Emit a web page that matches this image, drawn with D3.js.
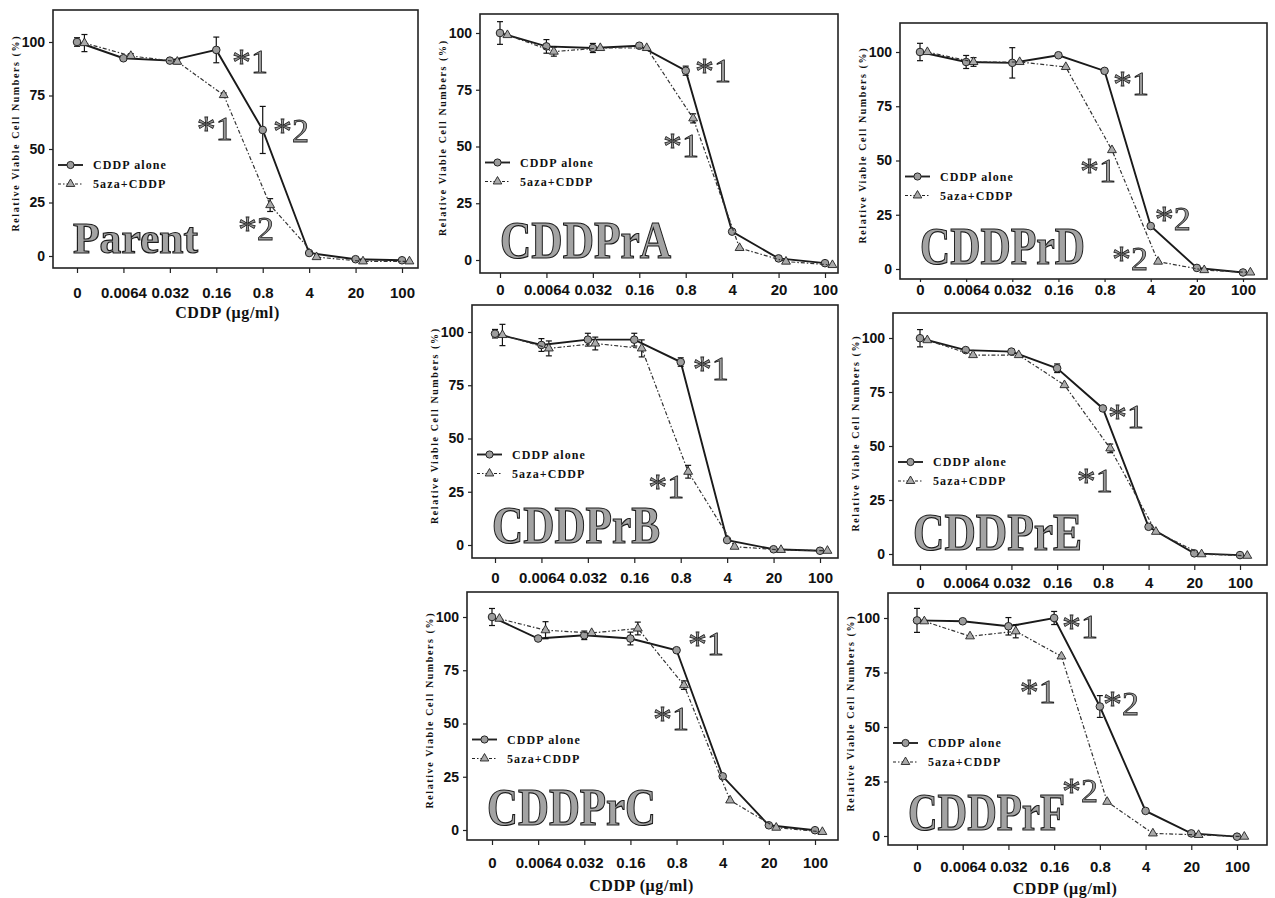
<!DOCTYPE html>
<html>

<head>
    <meta charset="utf-8">
    <style>
        body {
            margin: 0;
            background: #fff;
        }

        svg {
            display: block;
            font-family: "Liberation Serif", "DejaVu Serif", serif;
        }

        .frame {
            fill: none;
            stroke: #222;
            stroke-width: 1.6;
        }

        .axis .domain {
            display: none;
        }

        .axis .tick line {
            stroke: #222;
            stroke-width: 1.2;
        }

        .x.axis .tick text {
            font-size: 15px;
            font-weight: bold;
            fill: #111;
        }

        .y.axis .tick text {
            font-size: 14px;
            font-weight: bold;
            fill: #111;
        }

        .ytitle {
            font-size: 10px;
            font-weight: bold;
            fill: #111;
        }

        .xtitle {
            font-size: 16px;
            font-weight: bold;
            fill: #111;
            letter-spacing: 0.6px;
        }

        .legend text {
            font-size: 12px;
            font-weight: bold;
            fill: #111;
            letter-spacing: 1.1px;
        }

        .name {
            font-weight: bold;
            fill: #a3a3a3;
            stroke: #1c1c1c;
            stroke-width: 1.2;
        }

        .star {
            fill: #999;
            stroke: #1c1c1c;
            stroke-width: 0.8;
        }
    </style>
</head>

<body>
    <svg width="1275" height="898"></svg>

    <script src="https://d3js.org/d3.v7.min.js"></script>

    <script>
        // x categories (CDDP ug/ml), evenly spaced
        const doses = ["0", "0.0064", "0.032", "0.16", "0.8", "4", "20", "100"];
        const yTicks = [0, 25, 50, 75, 100];
        const panels = ["Parent", "CDDPrA", "CDDPrD", "CDDPrB", "CDDPrE", "CDDPrC", "CDDPrF"];
        const seriesNames = ["CDDP alone", "5aza+CDDP"];

        // rows follow panels order
        const aloneValues = [
            [100, 92.4, 91.3, 96.3, 58.9, 1.4, -1.5, -2],
            [100, 94.1, 93.4, 94.4, 83.4, 12.5, 0.7, -1.4],
            [100, 95.4, 95, 98.5, 91.3, 19.8, 0.5, -1.6],
            [99.2, 93.9, 96.4, 96.4, 85.9, 2.3, -2, -2.7],
            [99.9, 94.4, 93.7, 86, 67.4, 12.6, 0.3, -0.5],
            [100, 89.9, 91.4, 89.9, 84.4, 25.2, 2.2, -0.1],
            [98.9, 98.5, 96.2, 100, 59.4, 11.5, 1.2, -0.3]
        ];
        const azaValues = [
            [99.5, 93.5, 90.8, 75.2, 23.8, -0.5, -2.5, -2.5],
            [99.1, 91.8, 93.4, 93.4, 62.4, 5.3, -0.7, -2.2],
            [100, 95.4, 95.4, 93.1, 54.8, 3.4, -0.5, -1.6],
            [98.6, 92.3, 94.6, 92.3, 34.4, -0.8, -2.3, -2.7],
            [99, 92.1, 92.1, 78.2, 48.9, 10.3, -0.1, -0.8],
            [99.2, 93.8, 92.5, 94.6, 68, 13.9, 1.1, -0.9],
            [98.5, 91.6, 93.9, 82.4, 15.7, 1.2, 0.5, -0.3]
        ];
        const aloneErrors = [
            [2, 0, 0, 6, 11, 0, 0, 0],
            [5, 3, 2, 0, 2, 0, 0, 0],
            [4, 3, 7, 0, 0, 0, 0, 0],
            [2, 3, 3, 3, 2, 0, 0, 0],
            [4, 0, 0, 2, 0, 0, 0, 0],
            [4, 0, 2, 3, 0, 0, 0, 0],
            [5.5, 0, 4, 3, 5, 0, 0, 0]
        ];
        const azaErrors = [
            [4, 1, 1, 1, 3, 0, 0, 0],
            [0, 2, 0, 0, 2, 0, 0, 0],
            [0, 2, 0, 0, 0, 0, 0, 0],
            [5, 3.5, 3, 4, 3, 0, 0, 0],
            [0, 0, 0, 0, 2, 0, 0, 0],
            [0, 4, 0, 3, 2, 0, 0, 0],
            [0, 0, 3, 0, 0, 0, 0, 0]
        ];

        // significance marks: [panel, digit, dose position, value]
        const asterisks = [
            [0, "1", 3.34, 85.5], [0, "2", 4.22, 53.3], [0, "1", 2.58, 54.2], [0, "2", 3.47, 7.5],
            [1, "1", 4.2, 78.4], [1, "1", 3.51, 45.4],
            [2, "1", 4.18, 80], [2, "1", 3.47, 40], [2, "2", 5.09, 18], [2, "2", 4.16, -0.5],
            [3, "1", 4.26, 77.4], [3, "1", 3.3, 22],
            [4, "1", 4.11, 58.3], [4, "1", 3.43, 28.7],
            [5, "1", 4.25, 82], [5, "1", 3.49, 46.8],
            [6, "1", 3.17, 90.8], [6, "1", 2.25, 61], [6, "2", 4.07, 55.5], [6, "2", 3.17, 15.6]
        ];

        // panel placement on the page
        const layout = [
            { frame: [53, 10, 418, 268], xr: [77, 402], yr: [256, 42], labelY: 293, titleY: 312, nameW: 125, nameSize: 45 },
            { frame: [480, 14, 838, 273], xr: [500, 825], yr: [260, 33], labelY: 290, nameW: 171, nameSize: 53 },
            { frame: [900, 23, 1267, 279], xr: [920, 1243], yr: [269, 52], labelY: 290, nameW: 165, nameSize: 53 },
            { frame: [472, 305, 838, 558], xr: [495, 820], yr: [545, 332], labelY: 578, nameW: 168, nameSize: 53 },
            { frame: [893, 313, 1267, 565], xr: [920, 1240], yr: [554, 338], labelY: 583, nameW: 169, nameSize: 53 },
            { frame: [467, 592, 838, 840], xr: [492, 815], yr: [830, 617], labelY: 863, titleY: 885, nameW: 169, nameSize: 53 },
            { frame: [888, 593, 1267, 845], xr: [917, 1237], yr: [836, 618], labelY: 867, titleY: 888, nameW: 157, nameSize: 53 }
        ];

        const azaShift = 0.16;

        let svg = d3.select("svg");

        // grey-only rendering for the big outlined letters
        svg.append("defs").append("filter")
            .attr("id", "grey")
            .attr("x", "-10%").attr("y", "-10%")
            .attr("width", "120%").attr("height", "120%")
            .append("feColorMatrix")
            .attr("type", "saturate")
            .attr("values", 0);

        panels.forEach(function (name, p) {
            let L = layout[p];
            let [fx0, fy0, fx1, fy1] = L.frame;

            let x = d3.scaleLinear()
                .domain([0, doses.length - 1])
                .range(L.xr);

            let y = d3.scaleLinear()
                .domain([0, 100])
                .range(L.yr);

            let g = svg.append("g").attr("class", "panel");

            g.append("rect")
                .attr("class", "frame")
                .attr("x", fx0)
                .attr("y", fy0)
                .attr("width", fx1 - fx0)
                .attr("height", fy1 - fy0);

            let tickLen = p === 2 ? 3 : 5;
            g.append("g")
                .attr("class", "x axis")
                .attr("transform", `translate(0,${fy1})`)
                .call(d3.axisBottom(x)
                    .tickValues(d3.range(doses.length))
                    .tickFormat(i => doses[i])
                    .tickSize(tickLen)
                    .tickPadding(L.labelY - fy1 - tickLen - 5.5));

            g.append("g")
                .attr("class", "y axis")
                .attr("transform", `translate(${fx0},0)`)
                .call(d3.axisLeft(y)
                    .tickValues(yTicks)
                    .tickSize(4)
                    .tickPadding(4));

            // axis titles
            let cy = (fy0 + fy1) / 2 - 5;
            g.append("text")
                .attr("class", "ytitle")
                .attr("transform", `translate(${fx0 - 34},${cy}) rotate(-90)`)
                .attr("text-anchor", "middle")
                .attr("textLength", 195)
                .attr("lengthAdjust", "spacing")
                .text("Relative Viable Cell Numbers (%)");

            if (L.titleY) {
                g.append("text")
                    .attr("class", "xtitle")
                    .attr("x", (L.xr[0] + L.xr[1]) / 2 - 12)
                    .attr("y", L.titleY + 5.5)
                    .attr("text-anchor", "middle")
                    .text("CDDP (\u03bcg/ml)");
            }

            // big panel name
            let big = g.append("g").attr("filter", "url(#grey)");
            big.append("text")
                .attr("class", "name")
                .attr("x", fx0 + 20)
                .attr("y", fy1 - 15)
                .attr("font-size", L.nameSize)
                .attr("textLength", L.nameW)
                .attr("lengthAdjust", "spacingAndGlyphs")
                .text(name);

            let series = [
                { key: seriesNames[0], values: aloneValues[p], errors: aloneErrors[p], shift: 0 },
                { key: seriesNames[1], values: azaValues[p], errors: azaErrors[p], shift: azaShift }
            ];

            let line = d3.line();

            series.forEach(function (s, si) {
                let pts = s.values.map((v, i) => ({ i: i + s.shift, v: v, e: s.errors[i] }));

                g.append("path")
                    .attr("fill", "none")
                    .attr("stroke", si === 0 ? "#1a1a1a" : "#333")
                    .attr("stroke-width", si === 0 ? 1.9 : 1.2)
                    .attr("stroke-dasharray", si === 0 ? null : "4,2,1.5,2")
                    .attr("d", line(pts.map(d => [x(d.i), y(d.v)])));

                // error bars
                let eb = g.append("g").selectAll("g")
                    .data(pts.filter(d => d.e > 0))
                    .join("g")
                    .attr("stroke", "#111")
                    .attr("stroke-width", 1.2);
                eb.append("line")
                    .attr("x1", d => x(d.i)).attr("x2", d => x(d.i))
                    .attr("y1", d => y(d.v - d.e)).attr("y2", d => y(d.v + d.e));
                eb.append("line")
                    .attr("x1", d => x(d.i) - 3).attr("x2", d => x(d.i) + 3)
                    .attr("y1", d => y(d.v + d.e)).attr("y2", d => y(d.v + d.e));
                eb.append("line")
                    .attr("x1", d => x(d.i) - 3).attr("x2", d => x(d.i) + 3)
                    .attr("y1", d => y(d.v - d.e)).attr("y2", d => y(d.v - d.e));

                if (si === 0) {
                    g.append("g").selectAll("circle")
                        .data(pts)
                        .join("circle")
                        .attr("cx", d => x(d.i))
                        .attr("cy", d => y(d.v))
                        .attr("r", 3.8)
                        .attr("fill", "#9c9c9c")
                        .attr("stroke", "#222")
                        .attr("stroke-width", 1);
                } else {
                    g.append("g").selectAll("path")
                        .data(pts)
                        .join("path")
                        .attr("transform", d => `translate(${x(d.i)},${y(d.v)})`)
                        .attr("d", d3.symbol(d3.symbolTriangle, 34))
                        .attr("fill", "#aaa")
                        .attr("stroke", "#222")
                        .attr("stroke-width", 0.9);
                }
            });

            // legend
            let lx = fx0 + 5;
            let ly = y(50) + 16;
            let leg = g.append("g").attr("class", "legend");
            series.forEach(function (s, si) {
                let yy = ly + si * 19;
                leg.append("line")
                    .attr("x1", lx).attr("x2", lx + 25)
                    .attr("y1", yy).attr("y2", yy)
                    .attr("stroke", "#222")
                    .attr("stroke-width", si === 0 ? 1.9 : 1.2)
                    .attr("stroke-dasharray", si === 0 ? null : "3,2,1.5,2");
                if (si === 0) {
                    leg.append("circle")
                        .attr("cx", lx + 12.5).attr("cy", yy).attr("r", 3.6)
                        .attr("fill", "#9c9c9c").attr("stroke", "#222");
                } else {
                    leg.append("path")
                        .attr("transform", `translate(${lx + 12.5},${yy})`)
                        .attr("d", d3.symbol(d3.symbolTriangle, 32))
                        .attr("fill", "#aaa").attr("stroke", "#222").attr("stroke-width", 0.9);
                }
                leg.append("text")
                    .attr("x", lx + 35)
                    .attr("y", yy + 4)
                    .text(s.key);
            });

            // asterisk labels
            let stars = g.append("g").attr("filter", "url(#grey)");
            asterisks.filter(a => a[0] === p).forEach(function (a) {
                let t = stars.append("text")
                    .attr("class", "star")
                    .attr("x", x(a[2]))
                    .attr("y", y(a[3]));
                t.append("tspan").attr("font-size", 38).attr("dy", 2).text("*");
                t.append("tspan").attr("font-size", 34).attr("dy", -2).text(a[1]);
            });
        });
    </script>
</body>

</html>
